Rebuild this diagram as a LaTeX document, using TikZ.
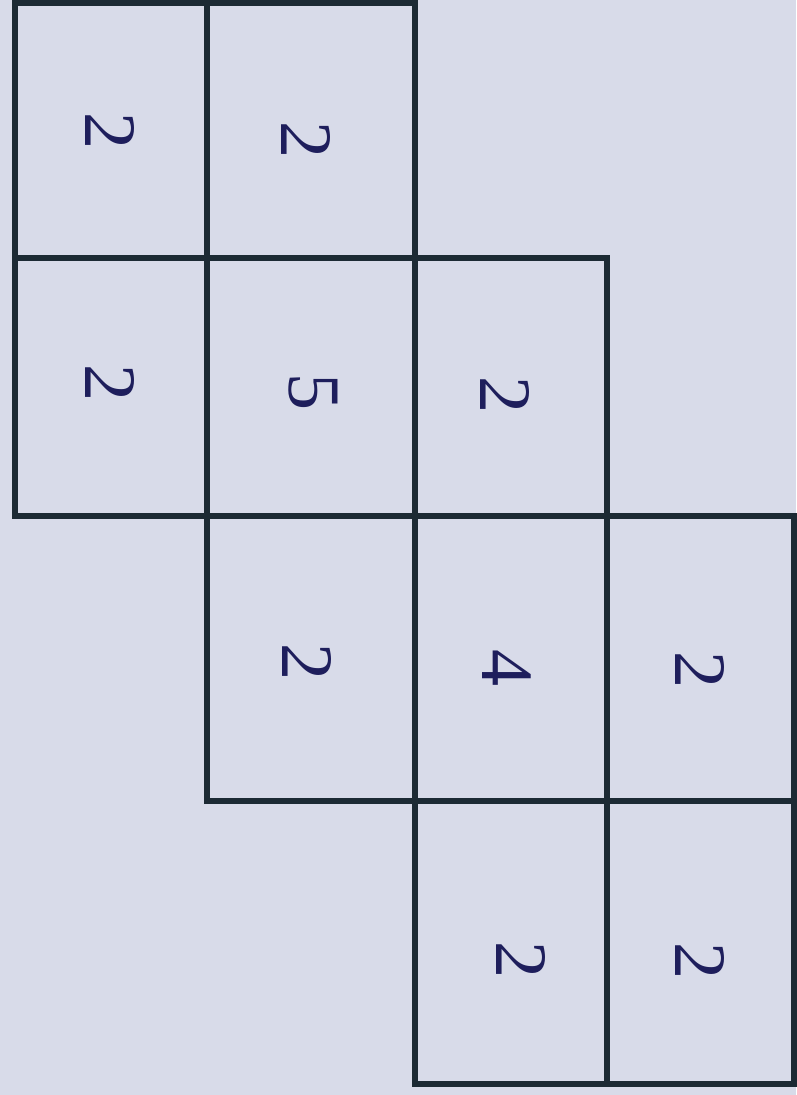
\documentclass[tikz,border=0pt]{standalone}
\usepackage{fontspec}
\setmainfont{Liberation Serif}
\definecolor{bgc}{RGB}{216,219,233}
\definecolor{linec}{RGB}{28,42,52}
\definecolor{digc}{RGB}{30,30,92}
\tikzset{
  cell/.style={draw=linec, line width=6.5pt, line join=miter},
  digit/.style={text=digc, rotate=-90, inner sep=0pt, font=\fontsize{74}{80}\selectfont}
}
\begin{document}
\begin{tikzpicture}[x=1pt,y=-1pt]
\fill[bgc] (0,0) rectangle (796,1095);
\useasboundingbox (0,0) rectangle (796,1095);
% row 0
\draw[cell] (15,3) rectangle (207,258);
\draw[cell] (207,3) rectangle (415,258);
% row 1
\draw[cell] (15,258) rectangle (207,516);
\draw[cell] (207,258) rectangle (415,516);
\draw[cell] (415,258) rectangle (607,516);
% row 2
\draw[cell] (207,516) rectangle (415,801);
\draw[cell] (415,516) rectangle (607,801);
\draw[cell] (607,516) rectangle (794,801);
% row 3
\draw[cell] (415,801) rectangle (607,1084);
\draw[cell] (607,801) rectangle (794,1084);
% digits
\node[digit] (d00) at (110,131) {2};
\node[digit] (d01) at (306,140) {2};
\node[digit] (d10) at (110,383) {2};
\node[digit] (d11) at (313,392) {5};
\node[digit] (d12) at (505,395) {2};
\node[digit] (d21) at (307,662) {2};
\node[digit] (d22) at (507,668) {4};
\node[digit] (d23) at (700,670) {2};
\node[digit] (d32) at (521,960) {2};
\node[digit] (d33) at (700,961) {2};
\end{tikzpicture}
\end{document}
